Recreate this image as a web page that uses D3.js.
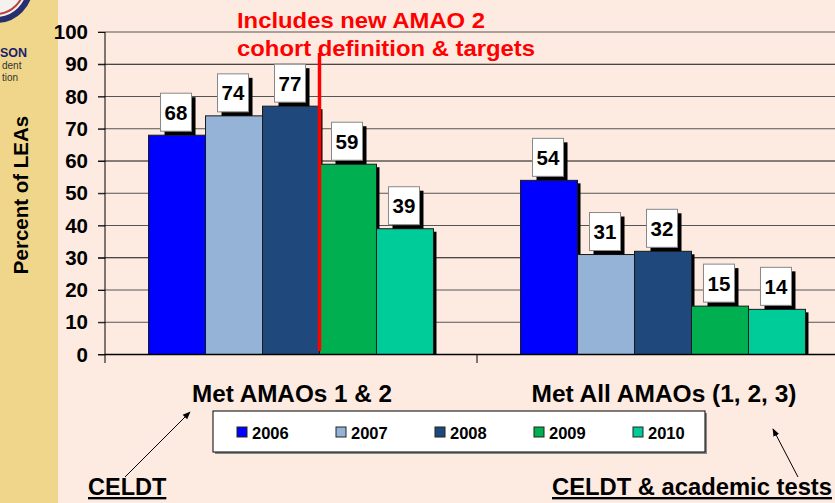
<!DOCTYPE html>
<html>
<head>
<meta charset="utf-8">
<title>Percent of LEAs meeting AMAOs</title>
<script src="https://cdn.jsdelivr.net/npm/d3@7/dist/d3.min.js"></script>
<style>
  body { margin: 0; background: #fdebe1; }
  svg { display: block; font-family: "Liberation Sans", Arial, sans-serif; font-weight: bold; }
</style>
</head>
<body>
<svg id="chart" width="835" height="503"></svg>
<script>
// data
var categories = ['Met AMAOs 1 & 2', 'Met All AMAOs (1, 2, 3)'];
var years = ['2006', '2007', '2008', '2009', '2010'];
var values2006 = [68, 54];
var values2007 = [74, 31];
var values2008 = [77, 32];
var values2009 = [59, 15];
var values2010 = [39, 14];
var yTicks = [0, 10, 20, 30, 40, 50, 60, 70, 80, 90, 100];
var colors = ['#0000ff', '#95b3d7', '#1f497d', '#00b050', '#00cc99'];

var series = [values2006, values2007, values2008, values2009, values2010];

var svg = d3.select('#chart'),
    width = +svg.attr('width'),
    height = +svg.attr('height');

// background + left strip of the slide
svg.append('rect').attr('width', width).attr('height', height).attr('fill', '#fdebe1');
svg.append('rect').attr('width', 58).attr('height', height).attr('fill', '#f0d68a');
svg.append('circle').attr('cx', -4).attr('cy', -14).attr('r', 34)
  .attr('fill', '#f4f1ee').attr('stroke', '#27306e').attr('stroke-width', 6);
svg.append('circle').attr('cx', -4).attr('cy', -14).attr('r', 28)
  .attr('fill', 'none').attr('stroke', '#b8413b').attr('stroke-width', 2);
svg.append('text').attr('x', 0).attr('y', 57).attr('font-size', 12.5).attr('fill', '#1b1f6b').text('SON');
svg.append('text').attr('x', 2).attr('y', 69).attr('font-size', 10).attr('font-weight', 'normal').attr('fill', '#333').text('dent');
svg.append('text').attr('x', 2).attr('y', 81).attr('font-size', 10).attr('font-weight', 'normal').attr('fill', '#333').text('tion');

var y = d3.scaleLinear().domain([0, 100]).range([354.5, 32]);

var x0 = d3.scaleBand().domain(categories).range([105, 849])
  .paddingInner(0.234).paddingOuter(0.117);
var x1 = d3.scaleBand().domain(years).range([0, x0.bandwidth()]);
var color = d3.scaleOrdinal().domain(years).range(colors);

// gridlines
svg.append('g').selectAll('line')
  .data(yTicks)
  .join('line')
  .attr('x1', 98).attr('x2', width)
  .attr('y1', d => y(d)).attr('y2', d => y(d))
  .attr('stroke', (d, i) => i % 3 === 0 ? '#111' : '#555')
  .attr('stroke-width', 1);

// y axis
var yAxis = svg.append('g')
  .attr('transform', 'translate(105,0)')
  .call(d3.axisLeft(y).tickValues(yTicks).tickSize(7).tickPadding(10));
yAxis.select('.domain').remove();
yAxis.selectAll('line').attr('stroke', '#111');
yAxis.selectAll('text').attr('font-size', 20.5).attr('font-family', '"Liberation Sans", Arial, sans-serif')
  .attr('font-weight', 'bold').attr('fill', '#000');
svg.append('line').attr('x1', 105).attr('x2', 105).attr('y1', y(100)).attr('y2', 363).attr('stroke', '#000');
svg.append('line').attr('x1', 477).attr('x2', 477).attr('y1', y(0)).attr('y2', 363).attr('stroke', '#000');

svg.append('text')
  .attr('transform', 'translate(28,195) rotate(-90)')
  .attr('text-anchor', 'middle').attr('font-size', 20.5)
  .text('Percent of LEAs');

// bars
var rows = [];
categories.forEach((c, ci) => {
  years.forEach((yr, yi) => rows.push({ cat: c, year: yr, value: series[yi][ci] }));
});

var bars = svg.append('g').selectAll('g')
  .data(rows)
  .join('g');

bars.append('rect')  // drop shadow
  .attr('x', d => x0(d.cat) + x1(d.year) + 3)
  .attr('y', d => y(d.value) + 3)
  .attr('width', x1.bandwidth())
  .attr('height', d => y(0) - y(d.value) - 3)
  .attr('fill', '#000');

bars.append('rect')
  .attr('x', d => x0(d.cat) + x1(d.year))
  .attr('y', d => y(d.value))
  .attr('width', x1.bandwidth())
  .attr('height', d => y(0) - y(d.value))
  .attr('fill', d => color(d.year))
  .attr('stroke', '#1a1a1a')
  .attr('stroke-width', 1);

// x baseline
svg.append('line').attr('x1', 105).attr('x2', width).attr('y1', y(0)).attr('y2', y(0))
  .attr('stroke', '#000').attr('stroke-width', 1.5);

// red divider
var divX = x0(categories[0]) + x1(years[3]);
svg.append('line').attr('x1', divX).attr('x2', divX).attr('y1', 53).attr('y2', 351)
  .attr('stroke', '#ff0000').attr('stroke-width', 3.5);

// value labels
var labels = svg.append('g').selectAll('g')
  .data(rows)
  .join('g')
  .attr('transform', d => 'translate(' + (x0(d.cat) + x1(d.year) + x1.bandwidth() / 2 - 1) + ',' + (y(d.value) - 23) + ')');
labels.append('rect').attr('x', -15.5 + 4).attr('y', -19 + 4).attr('width', 31).attr('height', 38).attr('fill', '#000');
labels.append('rect').attr('x', -15.5).attr('y', -19).attr('width', 31).attr('height', 38)
  .attr('fill', '#fff').attr('stroke', '#888').attr('stroke-width', 1);
labels.append('text').attr('text-anchor', 'middle').attr('y', 7.5).attr('font-size', 20.5).text(d => d.value);

// red note
svg.append('text').attr('x', 237).attr('y', 28).attr('font-size', 22).attr('fill', '#ff0000')
  .attr('textLength', 248).attr('lengthAdjust', 'spacingAndGlyphs').text('Includes new AMAO 2');
svg.append('text').attr('x', 237).attr('y', 56).attr('font-size', 22).attr('fill', '#ff0000')
  .attr('textLength', 298).attr('lengthAdjust', 'spacingAndGlyphs').text('cohort definition & targets');

// category labels
var catWidths = [200, 265];
svg.append('g').selectAll('text')
  .data(categories)
  .join('text')
  .attr('x', (d, i) => x0(d) + x0.bandwidth() / 2 + 1 - catWidths[i] / 2)
  .attr('y', 402)
  .attr('font-size', 23.5)
  .attr('textLength', (d, i) => catWidths[i])
  .attr('lengthAdjust', 'spacingAndGlyphs')
  .text(d => d);

// legend
svg.append('rect').attr('x', 215).attr('y', 413).attr('width', 492).attr('height', 41).attr('fill', '#888');
svg.append('rect').attr('x', 213).attr('y', 411).attr('width', 492).attr('height', 41)
  .attr('fill', '#fff').attr('stroke', '#000');
var legend = svg.append('g').selectAll('g')
  .data(years)
  .join('g')
  .attr('transform', (d, i) => 'translate(' + (237 + i * 99) + ',427)');
legend.append('rect').attr('width', 10).attr('height', 10).attr('fill', d => color(d)).attr('stroke', '#222');
legend.append('text').attr('x', 15).attr('y', 12).attr('font-size', 16.5).text(d => d);

// annotations
svg.append('defs').append('marker')
  .attr('id', 'arrow').attr('viewBox', '0 0 10 10').attr('refX', 9).attr('refY', 5)
  .attr('markerWidth', 8).attr('markerHeight', 8).attr('orient', 'auto')
  .append('path').attr('d', 'M0,1 L10,5 L0,9 Z').attr('fill', '#000');
svg.append('line').attr('x1', 125).attr('y1', 477).attr('x2', 190).attr('y2', 412)
  .attr('stroke', '#000').attr('marker-end', 'url(#arrow)');
svg.append('line').attr('x1', 798).attr('y1', 477).attr('x2', 773).attr('y2', 429)
  .attr('stroke', '#000').attr('marker-end', 'url(#arrow)');

svg.append('text').attr('x', 88).attr('y', 495).attr('font-size', 23.5)
  .attr('text-decoration', 'underline').text('CELDT');
svg.append('text').attr('x', 552).attr('y', 495).attr('font-size', 23.5)
  .attr('textLength', 280).attr('lengthAdjust', 'spacingAndGlyphs')
  .attr('text-decoration', 'underline').text('CELDT & academic tests');
</script>
</body>
</html>
